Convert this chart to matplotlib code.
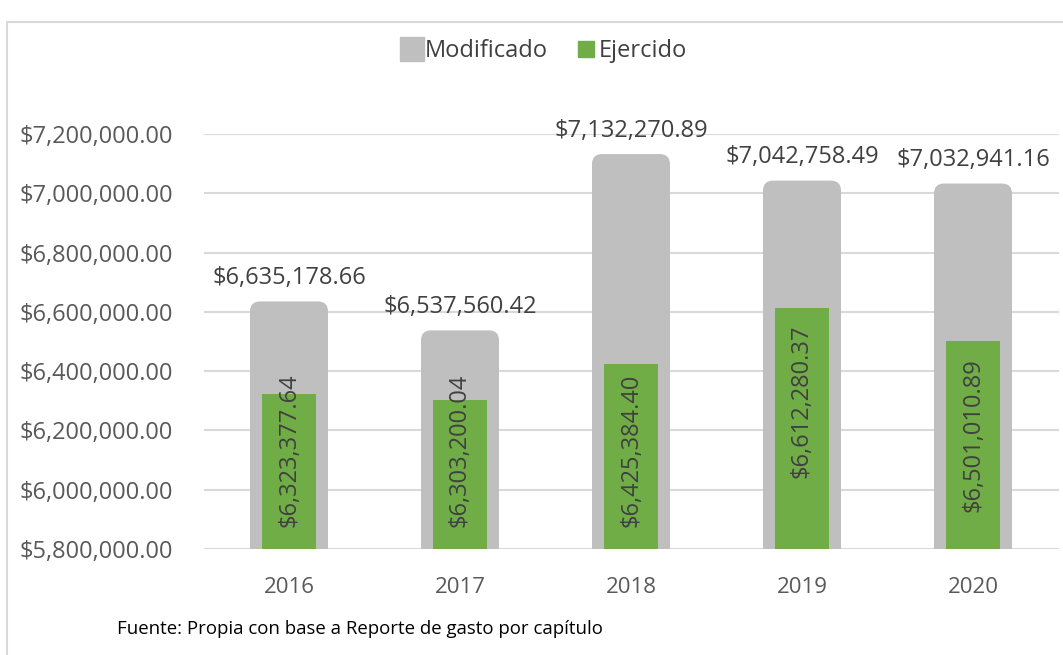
import matplotlib
matplotlib.use('Agg')
from matplotlib import pyplot as plt
from matplotlib.patches import FancyBboxPatch, Rectangle
from matplotlib.lines import Line2D
from matplotlib.ticker import FuncFormatter

years = ['2016', '2017', '2018', '2019', '2020']
modificado = [6635178.66, 6537560.42, 7132270.89, 7042758.49, 7032941.16]
ejercido = [6323377.64, 6303200.04, 6425384.40, 6612280.37, 6501010.89]
y_ticks = [5800000, 6000000, 6200000, 6400000, 6600000, 6800000, 7000000, 7200000]

GRAY = '#BFBFBF'
GREEN = '#70AD47'
TEXT = '#404040'
TICK = '#595959'
GRID = '#D9D9D9'
plt.rcParams['font.family'] = ['Open Sans', 'DejaVu Sans']


def money(v, pos=None):
    return f'${v:,.2f}'


fig = plt.figure(figsize=(10.63, 6.55), dpi=100)
W, H = 1063, 655
ax = fig.add_axes([203.5 / W, (H - 549) / H, 855 / W, 415 / H])
ax.set_xlim(-0.5, len(years) - 0.5)
ax.set_ylim(y_ticks[0], y_ticks[-1])
ax.set_yticks(y_ticks)
ax.yaxis.set_major_formatter(FuncFormatter(money))
ax.set_xticks(range(len(years)))
ax.set_xticklabels(years)
ax.grid(axis='y', color=GRID, linewidth=1.5)
ax.set_axisbelow(True)
for s in ax.spines.values():
    s.set_visible(False)
ax.tick_params(axis='y', length=0, pad=22, labelsize=17, labelcolor=TICK)
ax.tick_params(axis='x', length=0, pad=20, labelsize=16, labelcolor=TICK)

# gray bars with rounded top, drawn from the bars' own geometry
gray_bars = ax.bar(range(len(years)), [m - y_ticks[0] for m in modificado], 0.456,
                   bottom=y_ticks[0], color=GRAY)
# pixels -> data scale for rounding
fig.canvas.draw()
px_x = (ax.transData.transform((1, 0))[0] - ax.transData.transform((0, 0))[0])
px_y = (ax.transData.transform((0, 1))[1] - ax.transData.transform((0, 0))[1])
for b in gray_bars:
    b.set_visible(False)
    r = 10 / px_x
    p = FancyBboxPatch((b.get_x(), b.get_y()), b.get_width(), b.get_height(),
                       boxstyle=f'round,pad=0,rounding_size={r}',
                       mutation_aspect=px_x / px_y, facecolor=GRAY,
                       edgecolor='none', zorder=2)
    ax.add_patch(p)
    # square off the bottom corners
    ax.add_patch(Rectangle((b.get_x(), b.get_y()), b.get_width(), 20 / px_y,
                           facecolor=GRAY, edgecolor='none', zorder=2))

green_bars = ax.bar(range(len(years)), [e - y_ticks[0] for e in ejercido], 0.32,
                    bottom=y_ticks[0], color=GREEN, zorder=3)

# labels on top of gray bars
for i, v in enumerate(modificado):
    ax.annotate(money(v), (i, v), xytext=(0, 8), textcoords='offset points',
                ha='center', va='bottom', fontsize=17, color=TEXT, zorder=5)

# rotated labels inside the green bars, near the top but kept above the base
base_px = ax.transData.transform((0, y_ticks[0]))[1]
green_labels = []
for i, v in enumerate(ejercido):
    t = ax.annotate(money(v), (i, v), xytext=(0, -12), textcoords='offset points',
                    ha='center', va='top', rotation=90, fontsize=17, color=TEXT,
                    zorder=5)
    green_labels.append(t)
fig.canvas.draw()
renderer = fig.canvas.get_renderer()
for t in green_labels:
    bb = t.get_window_extent(renderer)
    min_bottom = base_px + 22
    if bb.y0 < min_bottom:
        shift = (min_bottom - bb.y0) * 72 / fig.dpi
        t.xyann = (0, -12 + shift)

# legend
handles = [Line2D([], [], marker='s', color='none', markerfacecolor=GRAY,
                  markeredgecolor=GRAY, markersize=17, label='Modificado'),
           Line2D([], [], marker='s', color='none', markerfacecolor=GREEN,
                  markeredgecolor=GREEN, markersize=11, label='Ejercido')]
fig.legend(handles=handles, loc='center', bbox_to_anchor=(545 / W, 1 - 51 / H),
           ncol=2, frameon=False, fontsize=17, labelcolor=TEXT,
           handlelength=0.8, handletextpad=0.15, columnspacing=1.2)

fig.text(117 / W, 1 - 629 / H, 'Fuente: Propia con base a Reporte de gasto por capítulo',
         ha='left', va='center', fontsize=13.4, color='black')

# chart border
fig.add_artist(Rectangle((7 / W, -0.1), 1.2, 1 - 22 / H + 0.1, transform=fig.transFigure,
                         facecolor='none', edgecolor=GRID, linewidth=1.5))

fig.savefig('out.png', dpi=100)
